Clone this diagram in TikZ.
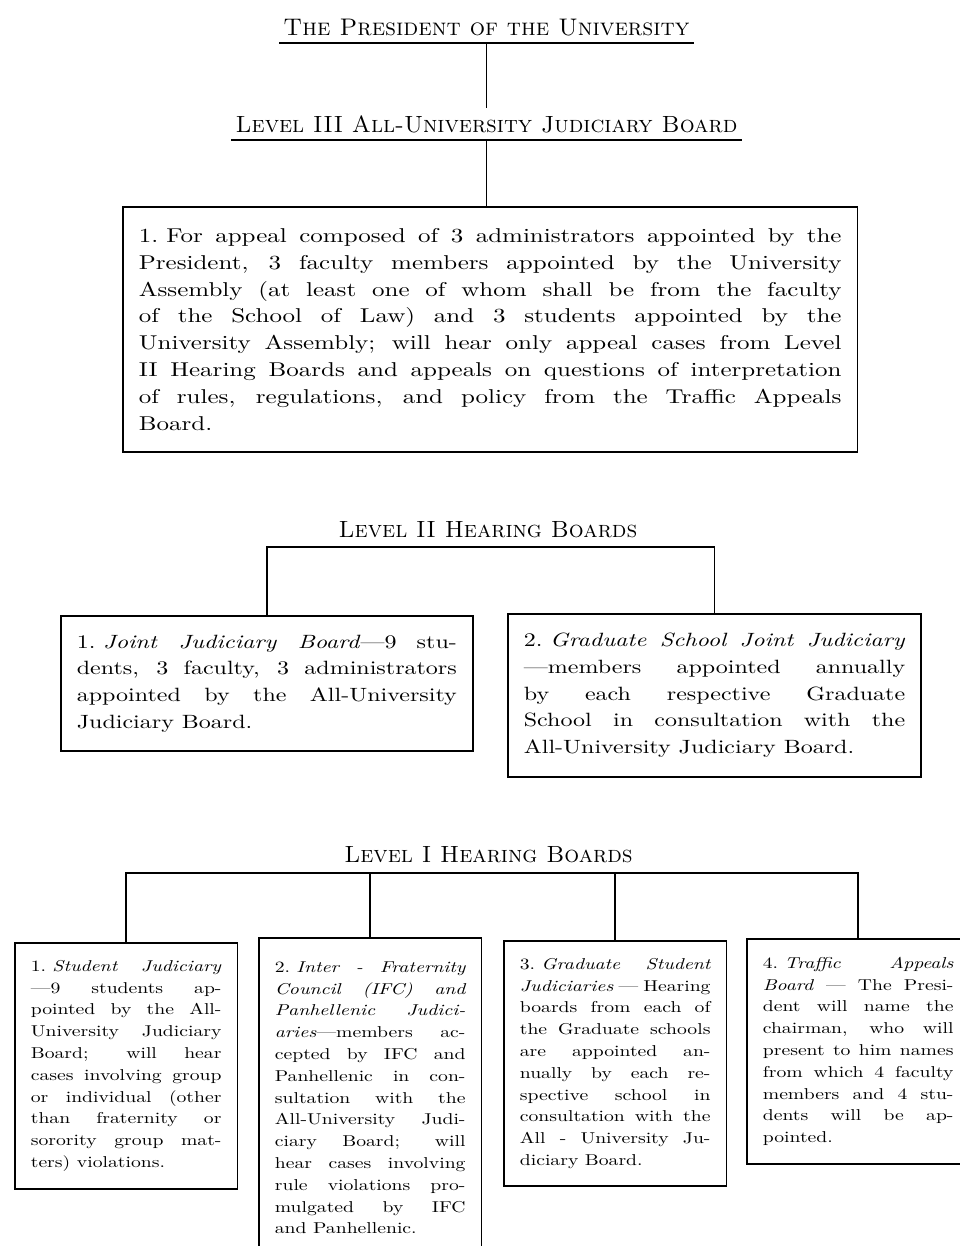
\documentclass[tikz,border=0pt]{standalone}
\usepackage{fontspec}
\newfontfamily\boardfont{lmroman10}[Extension=.otf,UprightFont=*-regular,ItalicFont=*-italic,FakeStretch=1.25]
\tolerance=10000
\hyphenpenalty=10000
\exhyphenpenalty=10000
\newcommand\itemno[1]{#1.\hspace{.4em}}
\tikzset{
  rule/.style={line width=1.3pt},
  heading/.style={anchor=base,inner xsep=3pt,inner ysep=5.5pt,font=\fontsize{17.6}{20}\selectfont},
  board/.style={draw,line width=1.3pt,anchor=north west,align=justify,inner xsep=12pt,inner ysep=0pt},
  bigboard/.style={board,font=\boardfont\fontsize{15}{20.1}\selectfont},
  midboard/.style={board,font=\boardfont\fontsize{14.4}{20}\selectfont},
  smallboard/.style={board,text width=143pt,font=\boardfont\fontsize{11.8}{16.35}\selectfont}
}
\begin{document}
\begin{tikzpicture}[x=0.75pt,y=-0.75pt]
\useasboundingbox (0,0) rectangle (960,1246);

% level III
\node[heading,font=\fontsize{18}{20}\selectfont] (pres) at (486.5,35) {\textsc{The President of the University}};
\node[heading] (lvlthree) at (486.5,132) {\textsc{Level III All-University Judiciary Board}};
\draw[rule] (pres.south west) -- (pres.south east);
\draw[rule] (lvlthree.south west) -- (lvlthree.south east);
\draw[rule] (pres.south) -- (lvlthree.north);

\node[bigboard,text width=527pt,minimum height=183.75pt] (appeal) at (122,206) {\hangindent=18pt\hangafter=1
\itemno{1}For appeal composed of 3 administrators appointed by the\linebreak
President, 3 faculty members appointed by the University\linebreak
Assembly (at least one of whom shall be from the faculty\linebreak
of the School of Law) and 3 students appointed by the\linebreak
University Assembly; will hear only appeal cases from Level\linebreak
II Hearing Boards and appeals on questions of interpretation\linebreak
of rules, regulations, and policy from the Traffic Appeals\linebreak
Board.};
\draw[rule] (lvlthree.south) -- (lvlthree.south |- appeal.north);

% level II
\node[heading] (lvltwo) at (488,537) {\textsc{Level II Hearing Boards}};
\coordinate (bartwo) at (488,547);

\node[midboard,text width=285pt,minimum height=101.25pt] (joint) at (60,615) {\hangindent=16.5pt\hangafter=1
\itemno{1}\textit{Joint Judiciary Board}—9 stu-\linebreak
dents, 3 faculty, 3 administrators\linebreak
appointed by the All-University\linebreak
Judiciary Board.};

\node[midboard,text width=286pt,minimum height=122.25pt] (gradjoint) at (507,613) {\hangindent=17pt\hangafter=1
\itemno{2}\textit{Graduate School Joint Judiciary}\linebreak
—members appointed annually\linebreak
by each respective Graduate\linebreak
School in consultation with the\linebreak
All-University Judiciary Board.};

\draw[rule] (joint.north) |- (bartwo) -| (gradjoint.north);

% level I
\node[heading] (lvlone) at (488.5,862) {\textsc{Level I Hearing Boards}};
\coordinate (barone) at (488,873);

\node[smallboard,minimum height=184.5pt] (student) at (14,942) {\itemno{1}\textit{Student Judiciary}\linebreak
—9 students ap-\linebreak
pointed by the All-\linebreak
University Judiciary\linebreak
Board; will hear\linebreak
cases involving group\linebreak
or individual (other\linebreak
than fraternity or\linebreak
sorority group mat-\linebreak
ters) violations.};

\node[smallboard,minimum height=240pt] (fraternity) at (258,937) {\itemno{2}\textit{Inter - Fraternity\linebreak
Council (IFC) and\linebreak
Panhellenic Judici-\linebreak
aries}—members ac-\linebreak
cepted by IFC and\linebreak
Panhellenic in con-\linebreak
sultation with the\linebreak
All-University Judi-\linebreak
ciary Board; will\linebreak
hear cases involving\linebreak
rule violations pro-\linebreak
mulgated by IFC\linebreak
and Panhellenic.};

\node[smallboard,minimum height=183.75pt] (gradstudent) at (503,940) {\itemno{3}\textit{Graduate Student\linebreak
Judiciaries} — Hearing\linebreak
boards from each of\linebreak
the Graduate schools\linebreak
are appointed an-\linebreak
nually by each re-\linebreak
spective school in\linebreak
consultation with the\linebreak
All - University Ju-\linebreak
diciary Board.};

\node[smallboard,minimum height=168.75pt] (traffic) at (746,938) {\itemno{4}\textit{Traffic Appeals\linebreak
Board} — The Presi-\linebreak
dent will name the\linebreak
chairman, who will\linebreak
present to him names\linebreak
from which 4 faculty\linebreak
members and 4 stu-\linebreak
dents will be ap-\linebreak
pointed.};

\draw[rule] (student.north) |- (barone) -| (traffic.north);
\draw[rule] (fraternity.north) -- (fraternity.north |- barone);
\draw[rule] (gradstudent.north) -- (gradstudent.north |- barone);
\end{tikzpicture}
\end{document}
